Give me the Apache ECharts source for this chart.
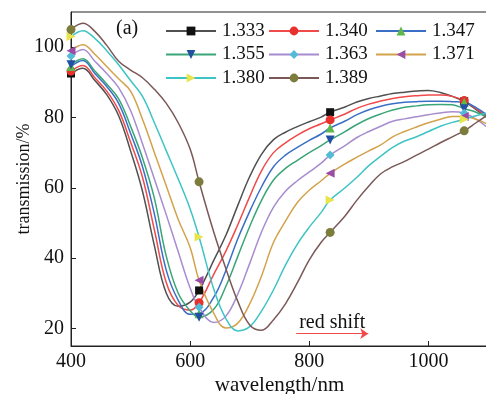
<!DOCTYPE html>
<html>
<head>
<meta charset="utf-8">
<script src="https://cdn.jsdelivr.net/npm/echarts@6/dist/echarts.min.js"></script>
<style>
  html, body { margin: 0; padding: 0; background: #fff; }
  #chart { width: 486px; height: 394px; }
</style>
</head>
<body>
<div id="chart"></div>
<script>
// wavelength grid (nm); markers sit at 400, 615, 835 and 1060
const wavelength = [400, 420, 440, 460, 480, 500, 520, 540, 560, 580, 600, 615, 640, 660, 680, 700, 720, 740,
  760, 780, 800, 820, 835, 860, 880, 900, 920, 940, 960, 980, 1000, 1020, 1040, 1060, 1080, 1100]
const markerWl = [400, 615, 835, 1060]

// transmission (%) for each refractive index
const t1333 = [92.5, 94.0, 90.5, 86.5, 80.5, 70.5, 59, 43.5, 30, 26.3, 27.5, 30.8, 39.5, 46.5, 55, 63.2, 69.6, 73.7,
  75.8, 77.4, 78.8, 80.1, 81.5, 83, 84.4, 85.4, 86.1, 86.8, 87.2, 87.5, 87.7, 87.1, 86, 84.6, 82.2, 79.8]
const t1340 = [93.2, 94.8, 91.3, 87.5, 82, 73, 63, 48, 33, 26.5, 25.2, 27.3, 35.5, 42, 49.5, 57.5, 64.9, 70,
  72.8, 75, 76.8, 78.2, 79.3, 81, 82.6, 83.8, 84.7, 85.4, 85.9, 86.2, 86.4, 86.4, 86, 84.8, 82.5, 80.2]
const t1347 = [94.5, 96.2, 92.5, 88.8, 84, 75.5, 66, 52.5, 36.5, 28, 24, 24.2, 29, 36.5, 45.5, 53.3, 60.3, 66,
  69.3, 71.5, 73.5, 75.3, 77, 79, 80.8, 82.2, 83.2, 83.9, 84.3, 84.5, 84.6, 84.6, 84.5, 84.3, 82.8, 80.5]
const t1355 = [95, 96.7, 93.2, 89.5, 85.3, 77.5, 68.5, 57, 40.5, 30, 25, 23.2, 25.5, 32, 40.5, 49, 56.5, 62.2,
  65.5, 67.8, 70, 72, 73.6, 76, 78, 79.7, 81, 82.1, 82.9, 83.3, 83.6, 83.7, 83.6, 82.5, 81.5, 80]
const t1363 = [97.5, 99.3, 96, 92.5, 88.5, 82, 72.5, 62.5, 52.3, 41.8, 31.5, 26, 21.7, 23.5, 29.8, 38.5, 47.5, 54.5,
  59, 62, 64.5, 67, 69.3, 72, 74.3, 76, 77.5, 78.9, 79.6, 80.2, 80.8, 81.3, 81.6, 81.2, 79.5, 77]
const t1371 = [99, 100.7, 98, 94.5, 91, 87.5, 79.5, 70, 60.5, 51, 43, 33.7, 24.2, 20.1, 21.5, 27, 35, 44.5,
  50.5, 55.8, 59.3, 62, 64.1, 66.8, 68.7, 70.5, 72.2, 74.5, 76, 77.3, 78.5, 79.5, 80.3, 80.3, 79.5, 78]
const t1380 = [103, 104.7, 102.5, 99, 95, 90.5, 86, 78.5, 70.5, 62.5, 54, 46, 31, 22.8, 19.3, 20.5, 25, 31,
  38, 44, 48.8, 53, 56.5, 60, 63, 66.3, 69, 71.5, 73.3, 74.5, 76, 77.5, 78.6, 79.5, 80.5, 81.3]
const t1389 = [105, 106.8, 104.5, 100.5, 96, 93.5, 91.3, 88, 84, 78.5, 71, 61.7, 47.2, 37, 27.7, 21, 19.5, 22.5,
  27, 33, 39.5, 44.5, 47.3, 52, 56.5, 60.5, 64, 66, 67.5, 69.3, 71, 72.8, 74.5, 76.2, 78.5, 80.8]

const yTicks = [20, 40, 60, 80, 100]
const FONT = 'Liberation Serif'

const seriesDefs = [
  { name: '1.333', data: t1333, line: '#505050', mark: '#111111', symbol: 'rect', rotate: 0 },
  { name: '1.340', data: t1340, line: '#f04a4a', mark: '#e8302c', symbol: 'circle', rotate: 0 },
  { name: '1.347', data: t1347, line: '#3b6fc6', mark: '#5cb84a', symbol: 'triangle', rotate: 0 },
  { name: '1.355', data: t1355, line: '#3aa578', mark: '#2450a4', symbol: 'triangle', rotate: 180 },
  { name: '1.363', data: t1363, line: '#a88cd0', mark: '#52bcd6', symbol: 'diamond', rotate: 0 },
  { name: '1.371', data: t1371, line: '#d3a24c', mark: '#9b4ca6', symbol: 'triangle', rotate: 90 },
  { name: '1.380', data: t1380, line: '#3ec4c4', mark: '#e8e44c', symbol: 'triangle', rotate: -90 },
  { name: '1.389', data: t1389, line: '#7b5858', mark: '#7c7c3c', symbol: 'circle', rotate: 0 }
]

const chart = echarts.init(document.getElementById('chart'))

const series = seriesDefs.map((s, k) => {
  const item = {
    name: s.name,
    type: 'line',
    smooth: 0.4,
    symbol: s.symbol,
    symbolSize: s.symbol === 'rect' ? 8 : 9,
    symbolRotate: s.rotate,
    showAllSymbol: true,
    lineStyle: { color: s.line, width: 1.5 },
    itemStyle: { color: s.mark },
    data: wavelength.map((w, i) => markerWl.includes(w)
      ? [w, s.data[i]]
      : { value: [w, s.data[i]], symbol: 'none' })
  }
  if (k === 0) {
    // "red shift" arrow
    item.markLine = {
      silent: true,
      symbol: ['none', 'arrow'],
      symbolSize: 8,
      itemStyle: { color: '#f04a4a' },
      lineStyle: { color: '#f04a4a', width: 1, type: 'solid' },
      label: {
        show: true,
        position: 'insideMiddleTop',
        formatter: 'red shift',
        color: '#111',
        fontFamily: FONT,
        fontSize: 20,
        distance: 1
      },
      emphasis: { disabled: true },
      data: [[{ coord: [778, 18.5] }, { coord: [899, 18.5] }]]
    }
  }
  return item
})

const legendBase = {
  orient: 'vertical',
  top: 21,
  padding: 0,
  itemWidth: 50,
  itemHeight: 11,
  itemGap: 3.5,
  textStyle: { color: '#111', fontFamily: FONT, fontSize: 19, lineHeight: 20, padding: [0, 0, 0, 1] }
}

const option = {
  animation: false,
  backgroundColor: '#fff',
  grid: {
    left: 71,
    right: -2,
    top: 12,
    bottom: 48,
    outerBoundsMode: 'none',
    containLabel: false,
    show: true,
    borderColor: '#222',
    borderWidth: 1
  },
  legend: [
    Object.assign({}, legendBase, { left: 165, data: ['1.333', '1.355', '1.380'] }),
    Object.assign({}, legendBase, { left: 268, data: ['1.340', '1.363', '1.389'] }),
    Object.assign({}, legendBase, { left: 375, data: ['1.347', '1.371'] })
  ],
  graphic: [
    {
      type: 'text',
      left: 116,
      top: 19,
      style: { text: '(a)', fill: '#111', font: '20px "Liberation Serif"' }
    }
  ],
  xAxis: {
    type: 'value',
    min: 400,
    max: 1100,
    interval: 200,
    name: 'wavelength/nm',
    nameLocation: 'middle',
    nameGap: 29,
    nameMoveOverlap: false,
    nameTextStyle: { color: '#111', fontFamily: FONT, fontSize: 21 },
    axisLine: { lineStyle: { color: '#222', width: 1 } },
    axisTick: { inside: true, length: 5, lineStyle: { color: '#222' } },
    axisLabel: {
      color: '#111', fontFamily: FONT, fontSize: 20, margin: 6, showMaxLabel: false,
      formatter: v => String(v)
    },
    splitLine: { show: false }
  },
  yAxis: {
    type: 'value',
    min: 15,
    max: 110,
    name: 'transmission/%',
    nameLocation: 'middle',
    nameGap: 38,
    nameMoveOverlap: false,
    nameTextStyle: { color: '#111', fontFamily: FONT, fontSize: 18 },
    axisLine: { show: true, lineStyle: { color: '#222', width: 1 } },
    axisTick: { show: true, inside: true, length: 5, customValues: yTicks, lineStyle: { color: '#222' } },
    axisLabel: { color: '#111', fontFamily: FONT, fontSize: 20, margin: 7, customValues: yTicks },
    splitLine: { show: false }
  },
  series: series
}

chart.setOption(option)
</script>
</body>
</html>
